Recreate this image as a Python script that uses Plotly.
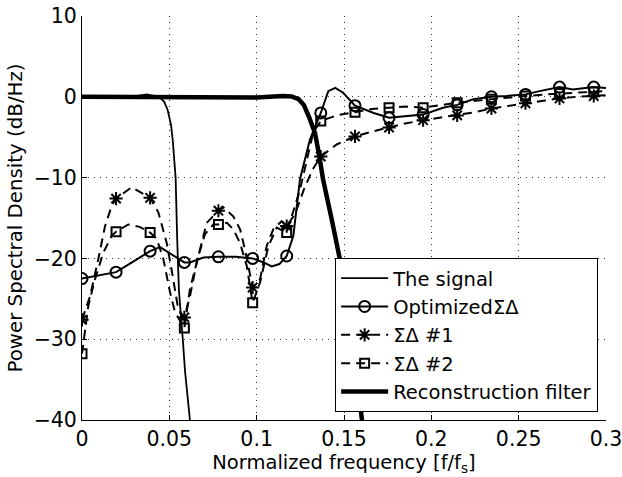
import plotly.graph_objects as go

# ---------------- data ----------------
# marker positions (normalized frequency)
mk_x = [0, 0.0195, 0.039, 0.0586, 0.0781, 0.0977, 0.1172, 0.1367, 0.1563,
        0.1758, 0.1953, 0.2148, 0.2344, 0.2539, 0.2734, 0.293]

opt_mk = [-22.5, -21.7, -19.1, -20.5, -19.8, -20.0, -19.7, -2.0, -1.1,
          -2.6, -2.2, -1.0, 0.0, 0.3, 1.2, 1.2]
sd1_mk = [-27.6, -12.6, -12.5, -27.3, -14.1, -23.6, -16.0, -7.4, -4.9,
          -3.8, -2.9, -2.3, -1.45, -0.8, -0.2, 0.1]
sd2_mk = [-31.8, -16.7, -16.8, -28.6, -15.8, -25.5, -16.8, -3.0, -1.9,
          -1.35, -1.35, -0.73, -0.3, 0.1, 0.4, 0.6]

# dense line traces
sig_x = [0, 0.01, 0.02, 0.03, 0.037, 0.042, 0.045, 0.047, 0.049, 0.051, 0.052,
         0.0536, 0.0545, 0.0555, 0.0577, 0.059, 0.0618, 0.063]
sig_y = [0, 0, 0, 0.05, 0.3, 0.1, -0.2, -0.6, -1.6, -3.5, -5.5,
         -10, -17.6, -24, -30, -34, -40, -42]

opt_x = [0, 0.0195, 0.03, 0.039, 0.0447, 0.05, 0.0586, 0.0618, 0.0695, 0.0781,
         0.088, 0.0977, 0.104, 0.1086, 0.113, 0.1172, 0.121, 0.1248, 0.1305,
         0.1367, 0.141, 0.145, 0.1495, 0.1563, 0.167, 0.1758, 0.1853, 0.1953,
         0.2067, 0.2148, 0.224, 0.2344, 0.243, 0.2539, 0.262, 0.2734, 0.281,
         0.293, 0.3]
opt_y = [-22.5, -21.7, -20.3, -19.1, -18.6, -19.3, -20.5, -20.5, -19.9, -19.8,
         -19.8, -20.0, -20.5, -21.0, -20.7, -19.7, -17.2, -10.2, -5.3,
         -2.0, 0.7, 1.1, 0.5, -1.1, -2.0, -2.6, -2.4, -2.2,
         -1.35, -1.0, -0.3, 0.0, 0.1, 0.3, 0.7, 1.2, 0.9,
         1.2, 1.1]

sd1_x = [0, 0.0046, 0.0093, 0.0132, 0.017, 0.0195, 0.0284, 0.039, 0.0437,
         0.0485, 0.0513, 0.0551, 0.0586, 0.0618, 0.0657, 0.0714, 0.0781,
         0.081, 0.0866, 0.0905, 0.0933, 0.0977, 0.1019, 0.1057, 0.1095,
         0.1143, 0.1172, 0.122, 0.127, 0.132, 0.1367, 0.1458, 0.1563, 0.166,
         0.1758, 0.185, 0.1953, 0.205, 0.2148, 0.225, 0.2344, 0.244, 0.2539,
         0.264, 0.2734, 0.283, 0.293, 0.3]
sd1_y = [-27.6, -24.7, -20.1, -16.0, -13.5, -12.6, -11.2, -12.5, -14.3,
         -18.1, -21.4, -26.3, -27.3, -24.7, -20.5, -15.6, -14.1,
         -13.7, -14.8, -16.4, -18.9, -23.6, -22.6, -18.5, -16.4,
         -15.4, -16.0, -14.5, -11.5, -9.0, -7.4, -5.9, -4.9, -4.3,
         -3.8, -3.3, -2.9, -2.6, -2.3, -1.9, -1.45, -1.1, -0.8,
         -0.5, -0.2, 0.0, 0.1, 0.2]

sd2_x = [0, 0.0036, 0.0074, 0.0122, 0.017, 0.0195, 0.0265, 0.033, 0.039,
         0.0428, 0.0466, 0.0504, 0.0533, 0.0586, 0.0618, 0.0666, 0.0704,
         0.0752, 0.0781, 0.083, 0.0866, 0.0905, 0.0943, 0.0977, 0.1019,
         0.1067, 0.1115, 0.1172, 0.1248, 0.1324, 0.1367, 0.1458, 0.1563,
         0.166, 0.1758, 0.1853, 0.1953, 0.205, 0.2148, 0.2344, 0.2539,
         0.2734, 0.293, 0.3]
sd2_y = [-31.8, -25.9, -22.6, -19.3, -17.2, -16.7, -15.8, -16.1, -16.8,
         -17.6, -20.1, -24.2, -26.7, -28.6, -23.8, -19.7, -17.0,
         -15.8, -15.8, -15.6, -16.4, -18.1, -20.9, -25.5, -23.0,
         -18.5, -16.2, -16.8, -11.5, -4.4, -3.0, -2.3, -1.9,
         -1.5, -1.35, -1.2, -1.35, -1.0, -0.73, -0.3, 0.1,
         0.4, 0.6, 0.7]

flt_x = [0, 0.02, 0.04, 0.06, 0.08, 0.1, 0.115, 0.12, 0.124, 0.127, 0.13,
         0.1334, 0.136, 0.138, 0.143, 0.148, 0.154, 0.16, 0.162]
flt_y = [0, 0, -0.1, 0, 0, -0.1, 0.1, 0.05, -0.3, -1.0, -2.5,
         -4.5, -7.5, -10.2, -15.2, -20.5, -29, -39.5, -43]

names = ["The signal", "Optimized\u03a3\u0394", "\u03a3\u0394 #1",
         "\u03a3\u0394 #2", "Reconstruction filter"]
x_ticks = [0, 0.05, 0.1, 0.15, 0.2, 0.25, 0.3]
y_ticks = [-40, -30, -20, -10, 0, 10]

# ---------------- figure ----------------
K = "black"
DASH = "9px,6px"
fig = go.Figure()

fig.add_trace(go.Scatter(x=sig_x, y=sig_y, mode="lines", name=names[0],
                         line=dict(color=K, width=1.8)))

series = [
    (names[1], opt_x, opt_y, opt_mk, "solid", "circle-open", 11),
    (names[2], sd1_x, sd1_y, sd1_mk, DASH, "asterisk-open", 11),
    (names[3], sd2_x, sd2_y, sd2_mk, DASH, "square-open", 9),
]
for nm, lx, ly, my, dash, sym, sz in series:
    fig.add_trace(go.Scatter(x=lx, y=ly, mode="lines", showlegend=False,
                             line=dict(color=K, width=2, dash=dash)))
    fig.add_trace(go.Scatter(x=mk_x, y=my, mode="markers", showlegend=False,
                             marker=dict(symbol=sym, size=sz, color=K,
                                         line=dict(color=K, width=2))))
    fig.add_trace(go.Scatter(x=[None], y=[None], mode="lines+markers", name=nm,
                             line=dict(color=K, width=2, dash=dash),
                             marker=dict(symbol=sym, size=sz, color=K,
                                         line=dict(color=K, width=2))))

fig.add_trace(go.Scatter(x=flt_x, y=flt_y, mode="lines", name=names[4],
                         line=dict(color=K, width=4.5)))

FONT = "DejaVu Sans, Verdana, sans-serif"
GRID = "rgba(0,0,0,0.8)"
GDASH = "1px,5px"
fig.update_layout(
    width=622, height=477,
    margin=dict(l=82, r=16, t=16, b=57, autoexpand=False),
    paper_bgcolor="white", plot_bgcolor="white",
    font=dict(family=FONT, size=20, color=K),
    legend=dict(x=0.985, y=0.02, xanchor="right", yanchor="bottom",
                bgcolor="white", bordercolor=K, borderwidth=1,
                font=dict(size=19.5), itemwidth=47, traceorder="normal"),
    xaxis=dict(range=[0, 0.3], tickvals=x_ticks, showline=True, linecolor=K,
               linewidth=1, ticks="inside", ticklen=5, tickcolor=K,
               tickfont=dict(size=20.5), automargin=False,
               ticklabeloverflow="allow",
               showgrid=True, gridcolor=GRID, griddash=GDASH,
               gridwidth=1, zeroline=False,
               title=dict(text="Normalized frequency [f/f<sub>s</sub>]",
                          font=dict(size=19.5), standoff=1)),
    yaxis=dict(range=[-40, 10], tickvals=y_ticks, showline=True, linecolor=K,
               linewidth=1, ticks="inside", ticklen=5, tickcolor=K,
               tickfont=dict(size=20.5), automargin=False,
               ticklabeloverflow="allow",
               showgrid=True, gridcolor=GRID, griddash=GDASH,
               gridwidth=1, zeroline=False,
               title=dict(text="Power Spectral Density (dB/Hz)",
                          font=dict(size=19.8), standoff=5)),
)

fig.write_html("out.html")
